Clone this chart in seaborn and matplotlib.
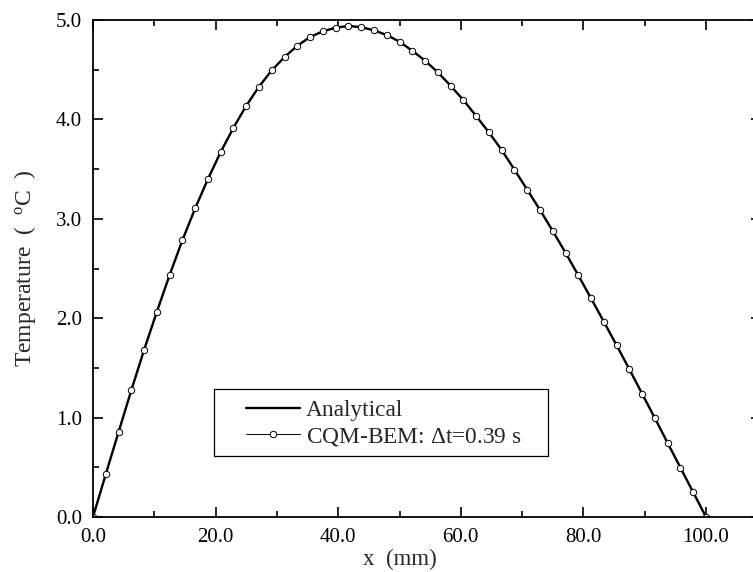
import numpy as np
import pandas as pd
import seaborn as sns
import matplotlib.pyplot as plt
from matplotlib.patches import Rectangle
from matplotlib.ticker import MultipleLocator, FormatStrFormatter

# values (x in mm, temperature in degC)
x_mm = [0.0, 2.08, 4.17, 6.25, 8.33, 10.42, 12.5, 14.58, 16.67, 18.75,
        20.83, 22.92, 25.0, 27.08, 29.17, 31.25, 33.33, 35.42, 37.5, 39.58,
        41.67, 43.75, 45.83, 47.92, 50.0, 52.08, 54.17, 56.25, 58.33, 60.42,
        62.5, 64.58, 66.67, 68.75, 70.83, 72.92, 75.0, 77.08, 79.17, 81.25,
        83.33, 85.42, 87.5, 89.58, 91.67, 93.75, 95.83, 97.92, 100.0]
temp_analytical = [0.0, 0.43, 0.855, 1.275, 1.68, 2.065, 2.435, 2.784, 3.106, 3.40,
                   3.672, 3.917, 4.137, 4.33, 4.494, 4.628, 4.741, 4.829, 4.886, 4.923,
                   4.940, 4.928, 4.896, 4.849, 4.782, 4.691, 4.591, 4.474, 4.339, 4.195,
                   4.034, 3.87, 3.692, 3.494, 3.293, 3.089, 2.877, 2.659, 2.431, 2.20,
                   1.965, 1.727, 1.486, 1.24, 0.993, 0.744, 0.496, 0.248, 0.0]
temp_cqm = [0.0, 0.43, 0.855, 1.275, 1.68, 2.065, 2.435, 2.784, 3.106, 3.40,
            3.672, 3.917, 4.137, 4.33, 4.494, 4.628, 4.741, 4.829, 4.886, 4.923,
            4.940, 4.928, 4.896, 4.849, 4.782, 4.691, 4.591, 4.474, 4.339, 4.195,
            4.034, 3.87, 3.692, 3.494, 3.293, 3.089, 2.877, 2.659, 2.431, 2.20,
            1.965, 1.727, 1.486, 1.24, 0.993, 0.744, 0.496, 0.248, 0.0]

sns.set_style("ticks")
plt.rcParams['font.family'] = ['Liberation Serif', 'DejaVu Serif']
plt.rcParams['mathtext.fontset'] = 'custom'
plt.rcParams['mathtext.rm'] = 'Liberation Serif'
plt.rcParams['mathtext.it'] = 'Liberation Serif:italic'

df = pd.DataFrame({"x": x_mm, "analytical": temp_analytical, "cqm": temp_cqm})

fig = plt.figure(figsize=(7.53, 5.72), dpi=100)
# axes runs past the right edge, like the cropped original
ax = fig.add_axes([93 / 753, 55 / 572, 109 * 6.13 / 753, 497 / 572])

sns.lineplot(data=df, x="x", y="analytical", ax=ax, color="black", linewidth=1.7,
             label="Analytical")
sns.lineplot(data=df, x="x", y="cqm", ax=ax, color="black", linewidth=0.7,
             marker="o", markersize=4.6, markerfacecolor="white",
             markeredgecolor="black", markeredgewidth=0.7,
             label=r"CQM-BEM: $\Delta$t=0.39 s")

ax.set_xlim(0, 109)
ax.set_ylim(0, 5.0)
ax.xaxis.set_major_locator(MultipleLocator(20))
ax.xaxis.set_minor_locator(MultipleLocator(10))
ax.yaxis.set_major_locator(MultipleLocator(1.0))
ax.yaxis.set_minor_locator(MultipleLocator(0.5))
ax.xaxis.set_major_formatter(FormatStrFormatter("%.1f"))
ax.yaxis.set_major_formatter(FormatStrFormatter("%.1f"))
ax.tick_params(which="both", direction="in", top=True, right=True, width=1.2,
               labelsize=15, colors="black")
ax.tick_params(which="major", length=7)
ax.tick_params(axis="x", which="major", pad=8)
ax.tick_params(axis="y", which="major", pad=8)
ax.tick_params(which="minor", length=4)
for s in ax.spines.values():
    s.set_linewidth(1.3)
    s.set_color("black")

ax.set_xlabel("x  (mm)", fontsize=16.5)
ax.xaxis.set_label_coords((400 - 93) / 668, -0.064)
ax.set_ylabel(r"Temperature  (  $^{\rm o}$C  )", fontsize=17)
ax.yaxis.set_label_coords(-0.083, 0.5)

leg = ax.legend(loc="center left", bbox_to_anchor=(246 / 753, 1 - 423.5 / 572),
                bbox_transform=fig.transFigure, fontsize=16.8, frameon=False,
                handlelength=2.3, borderpad=0, labelspacing=0.2,
                handletextpad=0.25, borderaxespad=0)
# plain rectangular legend frame, wider than the default padding
fig.add_artist(Rectangle((214 / 753, 1 - 456 / 572), (548 - 214) / 753, 67 / 572,
                         transform=fig.transFigure, fill=False,
                         edgecolor="black", linewidth=0.9))

fig.savefig("out.png", dpi=100)
